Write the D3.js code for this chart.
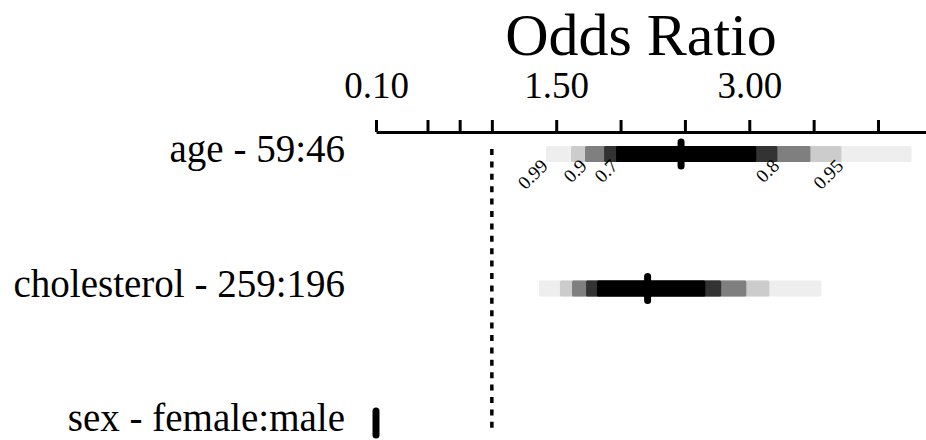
<!DOCTYPE html>
<html>
<head>
<meta charset="utf-8">
<script src="https://cdn.jsdelivr.net/npm/d3@7"></script>
<style>
  body { margin: 0; background: #fff; }
  text { font-family: "Liberation Serif", "Times New Roman", serif; fill: #000; }
</style>
</head>
<body>
<div id="chart"></div>
<script>
// effect rows, top to bottom
let rows = ['age - 59:46', 'cholesterol - 259:196', 'sex - female:male'];
let estimates = [2.47, 2.21, 0.10];
// confidence levels, darkest (narrowest) first
let levels = [0.7, 0.8, 0.9, 0.95, 0.99];
let shades = ['#000000', '#333333', '#7f7f7f', '#cccccc', '#eeeeee'];
let lower = [
    [1.965, 1.872, 1.724, 1.615, 1.420],
    [1.817, 1.732, 1.623, 1.529, 1.366],
    null
];
let upper = [
    [3.054, 3.218, 3.475, 3.716, 4.261],
    [2.658, 2.782, 2.977, 3.156, 3.560],
    null
];
// which side of the first bar each level label sits on
let labelSide = ['left', 'right', 'left', 'right', 'left'];
let tickValues = [0.1, 0.5, 0.75, 1, 1.5, 2, 2.5, 3, 3.5, 4, 4.5];
let tickLabels = [0.1, 1.5, 3.0];

let width = 926;
let height = 440;

let svg = d3.select('#chart')
    .append('svg')
    .attr('width', width)
    .attr('height', height);

let x = d3.scaleLinear()
    .domain([0.1, 4])
    .range([376, 878]);
let xAxisScale = x.copy().domain([0.1, x.invert(width)]).range([376, width]);

let y = d3.scalePoint()
    .domain(rows)
    .range([154, 423]);

// title
svg.append('text')
    .attr('x', 641)
    .attr('y', 55)
    .attr('text-anchor', 'middle')
    .style('font-size', '60px')
    .text('Odds Ratio');

// top axis
let axis = d3.axisTop(xAxisScale)
    .tickValues(tickValues.filter(function (v) { return xAxisScale(v) <= width; }))
    .tickSize(12)
    .tickSizeOuter(0)
    .tickPadding(22)
    .tickFormat(function (d) { return tickLabels.indexOf(d) >= 0 ? d3.format('.2f')(d) : ''; });

let gAxis = svg.append('g')
    .attr('transform', 'translate(0,132)')
    .call(axis);
gAxis.select('.domain').attr('stroke-width', 3).attr('stroke', '#000');
gAxis.selectAll('.tick line').attr('stroke-width', 3).attr('stroke', '#000');
gAxis.selectAll('.tick text')
    .style('font-size', '37px')
    .style('font-family', '"Liberation Serif", serif')
    .attr('fill', '#000');

// reference line at OR = 1
svg.append('line')
    .attr('x1', x(1)).attr('x2', x(1))
    .attr('y1', 149).attr('y2', 428)
    .attr('stroke', '#000')
    .attr('stroke-width', 3.5)
    .attr('stroke-dasharray', '6,6.4');

// row labels
svg.selectAll('text.row')
    .data(rows)
    .enter()
    .append('text')
    .attr('class', 'row')
    .attr('x', 345)
    .attr('y', function (d) { return y(d) + 8; })
    .attr('text-anchor', 'end')
    .style('font-size', '39px')
    .text(function (d) { return d; });

// interval bars, widest first so narrower ones paint on top
rows.forEach(function (r, i) {
    if (!lower[i]) return;
    for (let k = levels.length - 1; k >= 0; k--) {
        svg.append('rect')
            .attr('x', x(lower[i][k]))
            .attr('y', y(r) - 8)
            .attr('width', x(upper[i][k]) - x(lower[i][k]))
            .attr('height', 16)
            .attr('rx', 1.5)
            .attr('fill', shades[k]);
    }
});

// level labels under first bar
levels.forEach(function (lv, k) {
    let bx = labelSide[k] == 'left' ? x(lower[0][k]) : x(upper[0][k]);
    let by = y(rows[0]) + 13;
    svg.append('text')
        .attr('transform', 'translate(' + (bx + 3) + ',' + by + ') rotate(-45)')
        .attr('text-anchor', 'end')
        .style('font-size', '19px')
        .text(lv);
});

// point estimates
svg.selectAll('line.est')
    .data(rows)
    .enter()
    .append('line')
    .attr('class', 'est')
    .attr('x1', function (d, i) { return x(estimates[i]); })
    .attr('x2', function (d, i) { return x(estimates[i]); })
    .attr('y1', function (d) { return y(d) - 12; })
    .attr('y2', function (d) { return y(d) + 12; })
    .attr('stroke', '#000')
    .attr('stroke-width', 7)
    .attr('stroke-linecap', 'round');
</script>
</body>
</html>
